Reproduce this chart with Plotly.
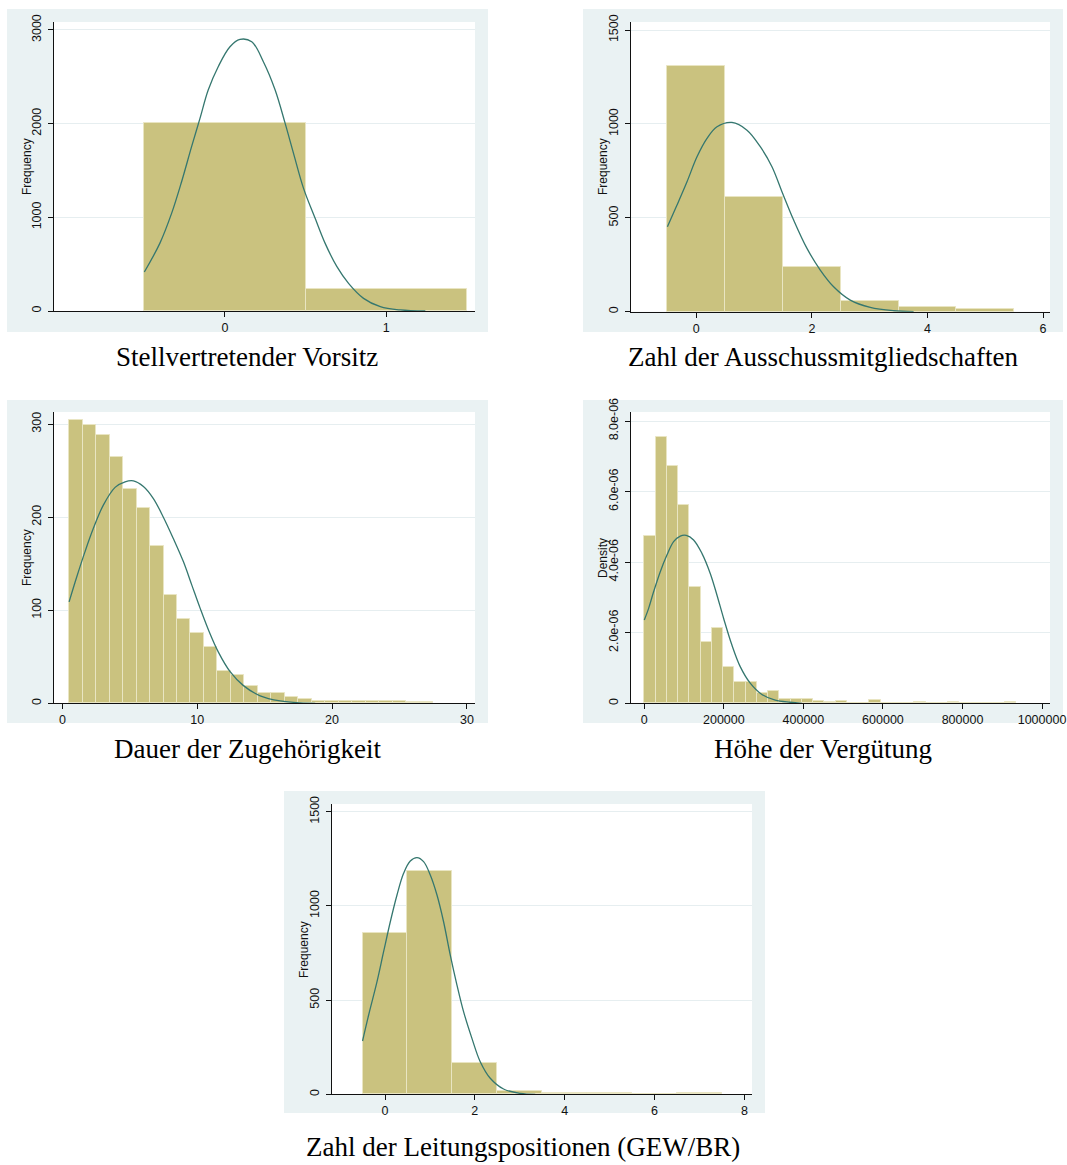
import plotly.graph_objects as go

# ---------------- data ----------------
titles = ["Stellvertretender Vorsitz", "Zahl der Ausschussmitgliedschaften",
          "Dauer der Zugehörigkeit", "Höhe der Vergütung",
          "Zahl der Leitungspositionen (GEW/BR)"]
ytitles = ["Frequency", "Frequency", "Frequency", "Density", "Frequency"]

# 1 Stellvertretender Vorsitz
vorsitz_x = [0, 1]
vorsitz_freq = [2003, 235]
vorsitz_curve_x = [-0.5, -0.404, -0.331, -0.269, -0.207, -0.155, -0.104, -0.042, 0.031, 0.093,
                   0.166, 0.238, 0.311, 0.373, 0.425, 0.487, 0.559, 0.621, 0.694, 0.766,
                   0.859, 0.963, 1.087, 1.242]
vorsitz_curve_y = [416, 722, 1042, 1380, 1754, 2056, 2359, 2608, 2821, 2899,
                   2874, 2661, 2359, 2003, 1683, 1309, 989, 722, 473, 295,
                   135, 46, 11, 0]

# 2 Zahl der Ausschussmitgliedschaften
aus_x = [0, 1, 2, 3, 4, 5]
aus_freq = [1308, 612, 238, 59, 23, 13]
aus_curve_x = [-0.5, -0.334, -0.161, 0.012, 0.185, 0.358, 0.617, 0.877, 1.107, 1.309,
               1.482, 1.684, 1.915, 2.145, 2.376, 2.664, 3.010, 3.414, 3.760]
aus_curve_y = [453, 568, 692, 825, 923, 985, 1008, 967, 879, 772,
               639, 488, 337, 222, 133, 62, 23, 5, 0]

# 3 Dauer der Zugehörigkeit
dauer_x = list(range(1, 28))
dauer_freq = [304, 299, 288, 265, 230, 210, 169, 116, 91, 76, 61, 35, 30, 19, 11, 11, 7, 5,
              2, 2, 3, 3, 2, 2, 2, 1, 1]
dauer_curve_x = [0.5, 1.07, 1.68, 2.30, 3.04, 3.91, 4.65, 5.27, 6.01, 6.75, 7.49, 8.23, 8.98,
                 9.60, 10.22, 10.83, 11.57, 12.44, 13.43, 14.67, 16.15, 17.63, 18.75]
dauer_curve_y = [109, 136, 163, 188, 213, 232, 238, 239, 233, 220, 200, 177, 152,
                 127, 102, 79, 55, 34, 19, 8, 2.5, 0.4, 0]

# 4 Höhe der Vergütung (density, 1e-6 units)
verg_bin_start = 0
verg_bin_width = 28300
verg_density = [4.74, 7.54, 6.72, 5.61, 3.29, 1.73, 2.12, 1.02, 0.61, 0.61, 0.28, 0.34,
                0.12, 0.11, 0.11, 0.06, 0.03, 0.06, 0, 0, 0.085, 0, 0, 0, 0.04, 0, 0,
                0.04, 0, 0, 0, 0, 0.04]
verg_curve_x = [0, 10900, 23450, 40200, 56950, 73700, 90450, 105530, 123950, 144900,
                165830, 182600, 199350, 220300, 241200, 266350, 295700, 329200, 366850, 396200]
verg_curve_y = [2.36, 2.69, 3.16, 3.73, 4.20, 4.58, 4.74, 4.76, 4.63, 4.25,
                3.68, 3.07, 2.41, 1.65, 1.04, 0.57, 0.25, 0.09, 0.03, 0]

# 5 Zahl der Leitungspositionen
leit_x = [0, 1, 2, 3, 4, 5, 6, 7]
leit_freq = [858, 1187, 168, 19, 6, 6, 0, 6]
leit_curve_x = [-0.5, -0.364, -0.178, -0.031, 0.118, 0.267, 0.414, 0.563, 0.712, 0.859,
                1.008, 1.157, 1.304, 1.453, 1.602, 1.749, 1.935, 2.120, 2.343, 2.639,
                3.010, 3.344]
leit_curve_y = [283, 421, 598, 757, 916, 1058, 1173, 1238, 1256, 1235,
                1164, 1058, 916, 739, 580, 439, 297, 173, 85, 28, 5, 0]

# tick definitions
x_ticks = [[0, 1], [0, 2, 4, 6], [0, 10, 20, 30],
           [0, 200000, 400000, 600000, 800000, 1000000], [0, 2, 4, 6, 8]]
x_ticktext4 = ["0", "200000", "400000", "600000", "800000", "1000000"]
y_ticks = [[0, 1000, 2000, 3000], [0, 500, 1000, 1500], [0, 100, 200, 300],
           [0, 2e-6, 4e-6, 6e-6, 8e-6], [0, 500, 1000, 1500]]
y_ticktext4 = ["0", "2.0e-06", "4.0e-06", "6.0e-06", "8.0e-06"]

# ---------------- styling / layout ----------------
W, H = 1067, 1165
BAR = "#CAC27F"
BAR_LINE = "#E9E5C2"
CURVE = "#35776F"
OUTER = "#EAF2F3"
GRID = "#E6EEF0"
TICKFONT = dict(family="Liberation Sans, Arial", size=12.5, color="#111111")

def fx(p):
    return p / W

def fy(p):
    return 1 - p / H

# panel geometry in pixels: plot domain, outer region, title position, y-title position
panels = [
    dict(xd=(54, 475), yd=(22, 311), outer=(7, 9, 488, 332), xr=[-1.06, 1.55], yr=[0, 3085],
         title=(247, 357), ytit=(27, 167)),
    dict(xd=(631, 1050), yd=(22, 311.7), outer=(583, 9, 1063, 332), xr=[-1.13, 6.12], yr=[0, 1543],
         title=(823, 357), ytit=(603, 167)),
    dict(xd=(54, 475), yd=(412, 703.3), outer=(7, 400, 488, 723), xr=[-0.62, 30.6], yr=[0, 313],
         title=(247, 749), ytit=(27, 558)),
    dict(xd=(631, 1050), yd=(412, 703.3), outer=(583, 400, 1063, 723), xr=[-33400, 1020000],
         yr=[0, 8.255e-6], title=(823, 749), ytit=(603, 558)),
    dict(xd=(332, 752), yd=(804, 1094.3), outer=(284, 791, 765, 1113), xr=[-1.18, 8.17], yr=[0, 1541],
         title=(523, 1147), ytit=(304, 950)),
]

verg_x = [verg_bin_start + (i + 0.5) * verg_bin_width for i in range(len(verg_density))]
verg_y = [d * 1e-6 for d in verg_density]
verg_cy = [d * 1e-6 for d in verg_curve_y]

series = [
    (vorsitz_x, vorsitz_freq, 1, vorsitz_curve_x, vorsitz_curve_y),
    (aus_x, aus_freq, 1, aus_curve_x, aus_curve_y),
    (dauer_x, dauer_freq, 1, dauer_curve_x, dauer_curve_y),
    (verg_x, verg_y, verg_bin_width, verg_curve_x, verg_cy),
    (leit_x, leit_freq, 1, leit_curve_x, leit_curve_y),
]

fig = go.Figure()
shapes = []
annotations = []
layout = {}

for i, (p, s) in enumerate(zip(panels, series)):
    n = i + 1
    xa = "x" if n == 1 else f"x{n}"
    ya = "y" if n == 1 else f"y{n}"
    bx, by, bw, cx, cy = s
    fig.add_trace(go.Bar(x=bx, y=by, width=[bw] * len(bx), xaxis=xa, yaxis=ya,
                         marker=dict(color=BAR, line=dict(color=BAR_LINE, width=1)),
                         showlegend=False, hoverinfo="skip"))
    fig.add_trace(go.Scatter(x=cx, y=cy, mode="lines", xaxis=xa, yaxis=ya,
                             line=dict(color=CURVE, width=1.3, shape="spline", smoothing=1.0),
                             showlegend=False, hoverinfo="skip"))
    xkey = "xaxis" if n == 1 else f"xaxis{n}"
    ykey = "yaxis" if n == 1 else f"yaxis{n}"
    xax = dict(domain=[fx(p["xd"][0]), fx(p["xd"][1])], anchor=ya, range=p["xr"],
               tickvals=x_ticks[i], ticks="outside", ticklen=5, tickcolor="#111",
               showline=True, linecolor="#111", linewidth=1, showgrid=False,
               zeroline=False, tickfont=TICKFONT, fixedrange=True, automargin=False)
    if i == 3:
        xax["ticktext"] = x_ticktext4
    layout[xkey] = xax
    yax = dict(domain=[fy(p["yd"][1]), fy(p["yd"][0])], anchor=xa, range=p["yr"],
               tickvals=y_ticks[i], ticks="outside", ticklen=5, tickcolor="#111",
               showline=True, linecolor="#111", linewidth=1, showgrid=True,
               gridcolor=GRID, gridwidth=1, zeroline=False, tickangle=-90,
               tickfont=TICKFONT, fixedrange=True, automargin=False, ticklabelstandoff=2)
    if i == 3:
        yax["ticktext"] = y_ticktext4
    layout[ykey] = yax
    ox0, oy0, ox1, oy1 = p["outer"]
    shapes.append(dict(type="rect", xref="paper", yref="paper", layer="below",
                       x0=fx(ox0), x1=fx(ox1), y0=fy(oy1), y1=fy(oy0),
                       fillcolor=OUTER, line=dict(width=0)))
    shapes.append(dict(type="rect", xref="paper", yref="paper", layer="below",
                       x0=fx(p["xd"][0]), x1=fx(p["xd"][1]), y0=fy(p["yd"][1]), y1=fy(p["yd"][0]),
                       fillcolor="white", line=dict(width=0)))
    annotations.append(dict(text=titles[i], xref="paper", yref="paper",
                            x=fx(p["title"][0]), y=fy(p["title"][1]), xanchor="center",
                            yanchor="middle", showarrow=False,
                            font=dict(family="Liberation Serif, Times New Roman", size=27,
                                      color="black")))
    annotations.append(dict(text=ytitles[i], xref="paper", yref="paper",
                            x=fx(p["ytit"][0]), y=fy(p["ytit"][1]), xanchor="center",
                            yanchor="middle", showarrow=False, textangle=-90,
                            font=dict(family="Liberation Sans, Arial", size=12, color="#111")))

fig.update_layout(width=W, height=H, margin=dict(l=0, r=0, t=0, b=0, autoexpand=False),
                  paper_bgcolor="white", plot_bgcolor="white",
                  shapes=shapes, annotations=annotations, bargap=0, **layout)

fig.write_html("out.html", config={"displayModeBar": False})
